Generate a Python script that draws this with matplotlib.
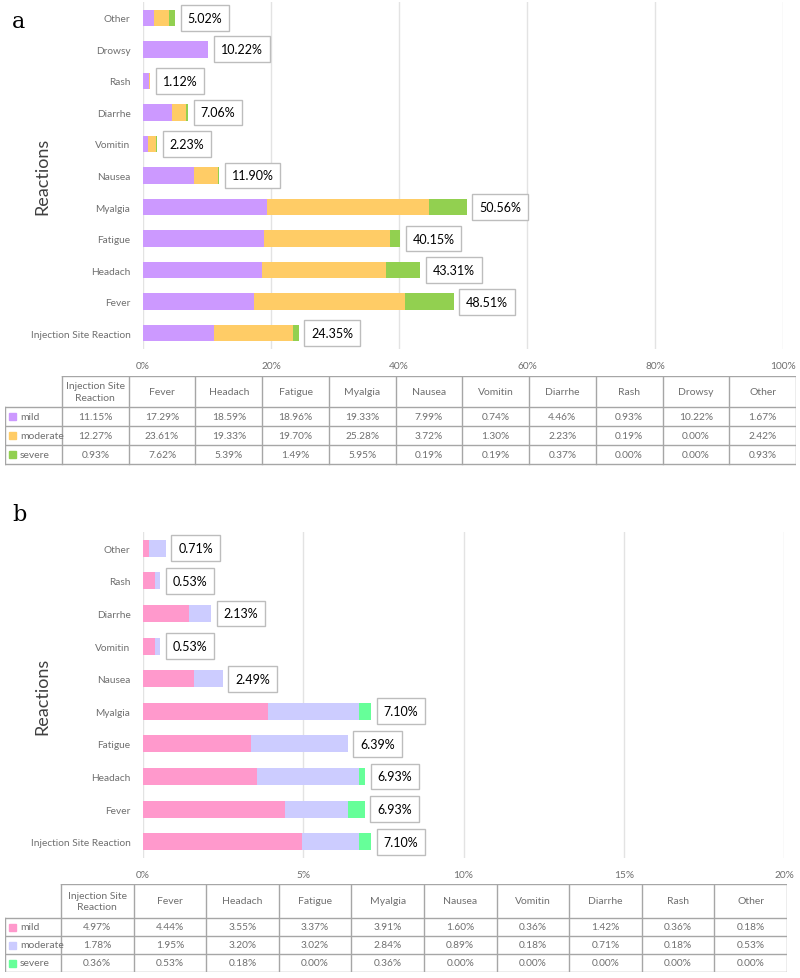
import numpy as np
import matplotlib
matplotlib.use("Agg")
import matplotlib.pyplot as plt
from matplotlib.patches import Rectangle

# Panel a data
cats_a = ["Injection Site Reaction", "Fever", "Headach", "Fatigue", "Myalgia", "Nausea",
          "Vomitin", "Diarrhe", "Rash", "Drowsy", "Other"]
head_a = ["Injection Site\nReaction", "Fever", "Headach", "Fatigue", "Myalgia", "Nausea",
          "Vomitin", "Diarrhe", "Rash", "Drowsy", "Other"]
mild_a = [11.15, 17.29, 18.59, 18.96, 19.33, 7.99, 0.74, 4.46, 0.93, 10.22, 1.67]
moderate_a = [12.27, 23.61, 19.33, 19.70, 25.28, 3.72, 1.30, 2.23, 0.19, 0.00, 2.42]
severe_a = [0.93, 7.62, 5.39, 1.49, 5.95, 0.19, 0.19, 0.37, 0.00, 0.00, 0.93]
total_a = ["24.35%", "48.51%", "43.31%", "40.15%", "50.56%", "11.90%", "2.23%", "7.06%",
           "1.12%", "10.22%", "5.02%"]
ticks_a = [0, 20, 40, 60, 80, 100]
colors_a = ["#CC99FF", "#FFCC66", "#92D050"]

# Panel b data
cats_b = ["Injection Site Reaction", "Fever", "Headach", "Fatigue", "Myalgia", "Nausea",
          "Vomitin", "Diarrhe", "Rash", "Other"]
head_b = ["Injection Site\nReaction", "Fever", "Headach", "Fatigue", "Myalgia", "Nausea",
          "Vomitin", "Diarrhe", "Rash", "Other"]
mild_b = [4.97, 4.44, 3.55, 3.37, 3.91, 1.60, 0.36, 1.42, 0.36, 0.18]
moderate_b = [1.78, 1.95, 3.20, 3.02, 2.84, 0.89, 0.18, 0.71, 0.18, 0.53]
severe_b = [0.36, 0.53, 0.18, 0.00, 0.36, 0.00, 0.00, 0.00, 0.00, 0.00]
total_b = ["7.10%", "6.93%", "6.93%", "6.39%", "7.10%", "2.49%", "0.53%", "2.13%",
           "0.53%", "0.71%"]
ticks_b = [0, 5, 10, 15, 20]
colors_b = ["#FF99CC", "#CCCCFF", "#66FF99"]

levels = ["mild", "moderate", "severe"]

W, H = 800, 979
fig = plt.figure(figsize=(W / 100, H / 100), dpi=100)
TXT = "#6f6f6f"


def px_axes(x, y, w, h):
    return fig.add_axes([x / W, 1 - (y + h) / H, w / W, h / H])


def bar_panel(rect, cats, series, colors, totals, ticks, letter, letter_y):
    ax = px_axes(*rect)
    y = np.arange(len(cats))
    left = np.zeros(len(cats))
    for vals, c in zip(series, colors):
        ax.barh(y, vals, left=left, height=0.52, color=c, zorder=3)
        left += np.array(vals)
    for yi, x, lab in zip(y, left, totals):
        ax.annotate(lab, (x, yi), xytext=(9, 0), textcoords="offset points",
                    ha="left", va="center", fontsize=9, family="Lato", color="black",
                    bbox=dict(boxstyle="square,pad=0.55", fc="white", ec="#bdbdbd", lw=1),
                    zorder=4)
    ax.set_xlim(0, ticks[-1])
    ax.set_ylim(-0.5, len(cats) - 0.5)
    ax.set_xticks(ticks)
    ax.set_xticklabels([f"{t}%" for t in ticks], family="Lato")
    ax.set_yticks(y)
    ax.set_yticklabels(cats, family="Lato")
    ax.grid(axis="x", color="#e3e3e3", lw=1, zorder=0)
    for s in ax.spines.values():
        s.set_visible(False)
    ax.tick_params(axis="both", length=0, colors=TXT, labelsize=7.3)
    ax.tick_params(axis="x", pad=9)
    ax.tick_params(axis="y", pad=9)
    ax.set_ylabel("Reactions", fontsize=13, color="#404040", family="Lato")
    ax.yaxis.set_label_coords(-0.145, 0.5)
    fig.text(12 / W, 1 - letter_y / H, letter, fontsize=16, family="DejaVu Serif",
             va="center", ha="left")
    return ax


def draw_table(rect, heads, series, colors, header_h, row_h, label_w):
    x0, y0, w, h = rect
    ax = px_axes(x0, y0, w, h)
    ax.set_xlim(0, w)
    ax.set_ylim(h, 0)
    ax.axis("off")
    ncol = len(heads)
    cw = (w - label_w) / ncol
    lc = "#a6a6a6"
    bottom = header_h + row_h * len(series)
    # grid lines of the table
    ax.plot([label_w, w], [0, 0], color=lc, lw=1)
    for i in range(len(series) + 1):
        yy = header_h + i * row_h
        ax.plot([0, w], [yy, yy], color=lc, lw=1)
    ax.plot([0, 0], [header_h, bottom], color=lc, lw=1)
    for j in range(ncol + 1):
        xx = label_w + j * cw
        ax.plot([xx, xx], [0, bottom], color=lc, lw=1)
    for j, hd in enumerate(heads):
        ax.text(label_w + (j + 0.5) * cw, header_h / 2, hd, ha="center", va="center",
                fontsize=7.5, color=TXT, linespacing=1.4, family="Lato")
    for i, (vals, c, lev) in enumerate(zip(series, colors, levels)):
        yc = header_h + (i + 0.5) * row_h
        ax.add_patch(Rectangle((4, yc - 3.5), 7, 7, color=c))
        ax.text(15, yc, lev, ha="left", va="center", fontsize=7.5, color=TXT, family="Lato")
        for j, v in enumerate(vals):
            ax.text(label_w + (j + 0.5) * cw, yc, f"{v:.2f}%", ha="center", va="center",
                    fontsize=7.3, color=TXT, family="Lato")


bar_panel((143, 3, 640, 347), cats_a, [mild_a, moderate_a, severe_a], colors_a, total_a,
          ticks_a, "a", 22)
draw_table((5, 377, 791, 90), head_a, [mild_a, moderate_a, severe_a], colors_a, 31, 19, 57)

bar_panel((143, 533, 641, 326), cats_b, [mild_b, moderate_b, severe_b], colors_b, total_b,
          ticks_b, "b", 515)
draw_table((5, 885, 782, 88), head_b, [mild_b, moderate_b, severe_b], colors_b, 34, 18, 56)

fig.savefig("out.png", dpi=100)
